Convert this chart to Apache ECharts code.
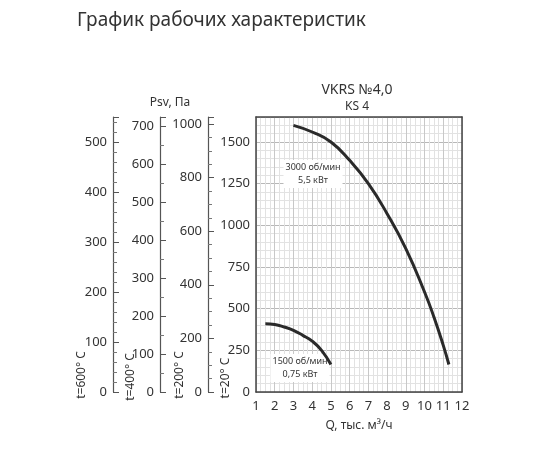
<!DOCTYPE html>
<html>
<head>
<meta charset="utf-8">
<script src="https://cdn.jsdelivr.net/npm/echarts@6/dist/echarts.min.js"></script>
<style>body{margin:0;background:#fff}</style>
</head>
<body>
<div id="main" style="width:550px;height:450px;"></div>
<script>
// curve 3000 rpm / 5.5 kW
var q3000 = [3, 4, 5, 6, 7, 8, 9, 10, 10.5, 11, 11.3];
var p3000 = [1600, 1560, 1500, 1390, 1250, 1070, 860, 600, 450, 280, 165];
// curve 1500 rpm / 0.75 kW
var q1500 = [1.5, 2, 2.5, 3, 3.5, 4, 4.5, 5];
var p1500 = [410, 405, 390, 370, 340, 305, 250, 165];

function pairs(x, y) { return x.map(function (v, i) { return [v, y[i]]; }); }

var FONT = 'Noto Sans';
var dark = '#333';

function plain(max) {
  return function (v) { return v >= max ? '' : String(v); };
}

function sideAxis(max, interval, minorSplit, offset) {
  return {
    type: 'value', position: 'left', min: 0, max: max, interval: interval, offset: offset,
    axisLine: { show: true, lineStyle: { color: '#555', width: 1.2 } },
    axisTick: { show: true, inside: true, length: 6, lineStyle: { color: '#555' } },
    minorTick: { show: true, splitNumber: minorSplit, length: 4, lineStyle: { color: '#777' } },
    axisLabel: { color: dark, fontSize: 13, fontFamily: FONT, margin: 6, formatter: plain(max) },
    splitLine: { show: false }
  };
}

var labelStyle = { fill: dark, font: '9px Noto Sans', align: 'center', verticalAlign: 'middle', lineHeight: 13 };

var chart = echarts.init(document.getElementById('main'));
chart.setOption({
  animation: false,
  grid: { left: 256, right: 88, top: 117, bottom: 58 },
  title: [
    { text: 'График рабочих характеристик', left: 72, top: 6, textStyle: { fontFamily: FONT, fontWeight: 'normal', fontSize: 19, color: '#333' } },
    { text: 'VKRS №4,0', left: 352, top: 78, textAlign: 'center', textStyle: { fontFamily: FONT, fontWeight: 'normal', fontSize: 14, color: '#333' } },
    { text: 'KS 4', left: 352, top: 96, textAlign: 'center', textStyle: { fontFamily: FONT, fontWeight: 'normal', fontSize: 12, color: '#333' } },
    { text: 'Psv, Па', left: 165, top: 92, textAlign: 'center', textStyle: { fontFamily: FONT, fontWeight: 'normal', fontSize: 12, color: '#333' } }
  ],
  xAxis: [{
    type: 'value', min: 1, max: 12, interval: 1, position: 'bottom',
    axisLine: { show: true, onZero: false, lineStyle: { color: '#444', width: 1.5 } },
    axisTick: { show: false },
    minorTick: { show: false, splitNumber: 4 },
    axisLabel: { color: dark, fontSize: 13, fontFamily: FONT, margin: 8 },
    splitLine: { show: true, lineStyle: { color: '#c8c8c8', width: 1 } },
    minorSplitLine: { show: true, lineStyle: { color: '#e2e2e2', width: 1 } },
    name: 'Q, тыс. м³/ч', nameLocation: 'middle', nameGap: 28,
    nameTextStyle: { color: dark, fontSize: 12, fontFamily: FONT }
  }, {
    type: 'value', min: 1, max: 12, position: 'top',
    axisLine: { show: true, onZero: false, lineStyle: { color: '#444', width: 1.5 } },
    axisTick: { show: false }, axisLabel: { show: false }, splitLine: { show: false }
  }],
  yAxis: [{
    type: 'value', min: 0, max: 1650, interval: 250, position: 'left',
    axisLine: { show: true, onZero: false, lineStyle: { color: '#444', width: 1.5 } },
    axisTick: { show: false },
    minorTick: { show: false, splitNumber: 5 },
    axisLabel: { color: dark, fontSize: 13, fontFamily: FONT, margin: 6, formatter: plain(1650) },
    splitLine: { show: true, lineStyle: { color: '#b8b8b8', width: 1 } },
    minorSplitLine: { show: true, lineStyle: { color: '#e2e2e2', width: 1 } }
  }, {
    type: 'value', min: 0, max: 1650, position: 'right',
    axisLine: { show: true, onZero: false, lineStyle: { color: '#444', width: 1.5 } },
    axisTick: { show: false }, axisLabel: { show: false }, splitLine: { show: false }
  },
    sideAxis(1026, 200, 4, 48),
    sideAxis(724, 100, 2, 96),
    sideAxis(550, 100, 5, 143)
  ],
  graphic: [
    { type: 'text', x: 82, y: 375, rotation: Math.PI / 2, style: { text: 't=600° C', fill: dark, font: '12px Noto Sans', align: 'center', verticalAlign: 'middle' } },
    { type: 'text', x: 131, y: 377, rotation: Math.PI / 2, style: { text: 't=400° C', fill: dark, font: '12px Noto Sans', align: 'center', verticalAlign: 'middle' } },
    { type: 'text', x: 180, y: 375, rotation: Math.PI / 2, style: { text: 't=200° C', fill: dark, font: '12px Noto Sans', align: 'center', verticalAlign: 'middle' } },
    { type: 'text', x: 226, y: 378, rotation: Math.PI / 2, style: { text: 't=20° C', fill: dark, font: '12px Noto Sans', align: 'center', verticalAlign: 'middle' } },
    { type: 'text', z: 3, x: 313, y: 174, style: Object.assign({ text: '3000 об/мин\n5,5 кВт', backgroundColor: '#fff', padding: [1, 2] }, labelStyle) },
    { type: 'text', z: 3, x: 300, y: 368, style: Object.assign({ text: '1500 об/мин\n0,75 кВт', backgroundColor: '#fff', padding: [1, 2] }, labelStyle) }
  ],
  series: [
    { type: 'line', smooth: true, symbol: 'none', z: 10, data: pairs(q3000, p3000), lineStyle: { color: '#2a2a2a', width: 3 } },
    { type: 'line', smooth: true, symbol: 'none', z: 10, data: pairs(q1500, p1500), lineStyle: { color: '#2a2a2a', width: 3 } }
  ]
});
</script>
</body>
</html>
